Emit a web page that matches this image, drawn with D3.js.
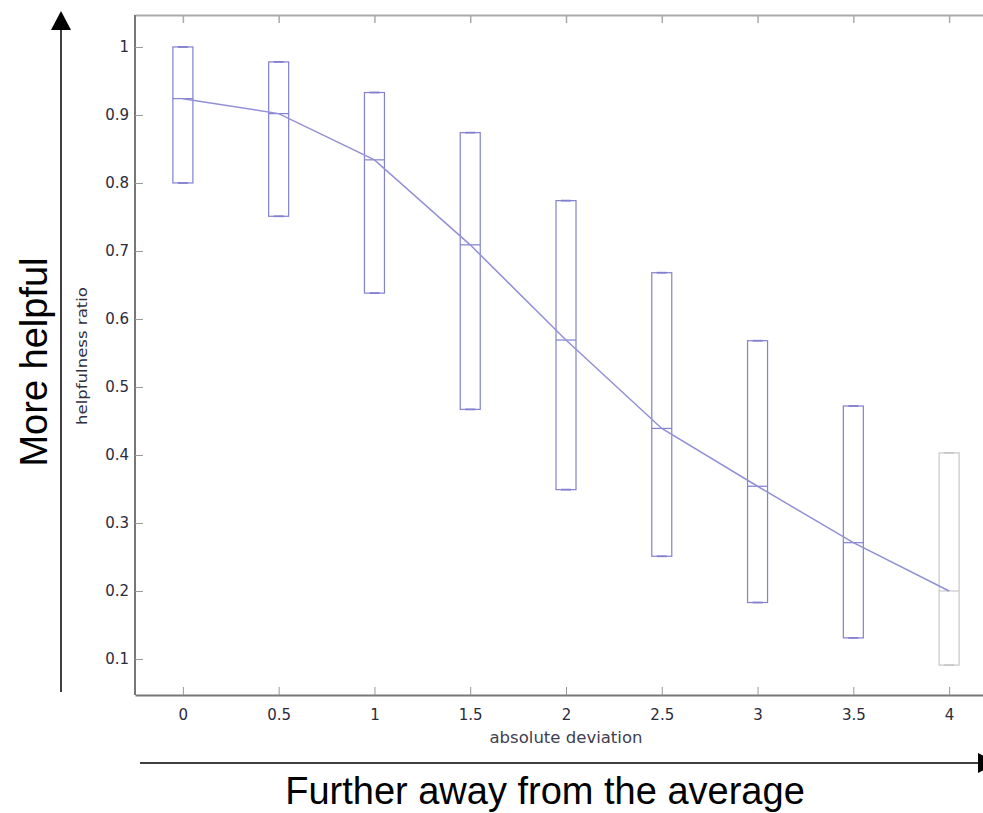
<!DOCTYPE html>
<html>
<head>
<meta charset="utf-8">
<script src="https://cdn.jsdelivr.net/npm/d3@7"></script>
<style>
  body { margin: 0; background: #fff; }
  svg { display: block; font-family: "Liberation Sans", Arial, sans-serif; }
</style>
</head>
<body>
<div id="chart"></div>
<script>
const width = 983;
const height = 813;

// absolute deviation bins
const deviations = [0, 0.5, 1, 1.5, 2, 2.5, 3, 3.5, 4];
// box tops, medians and bottoms (helpfulness ratio)
const boxTop    = [1.0, 0.978, 0.933, 0.874, 0.774, 0.668, 0.568, 0.472, 0.403];
const medians   = [0.924, 0.902, 0.834, 0.709, 0.569, 0.439, 0.354, 0.271, 0.200];
const boxBottom = [0.80, 0.751, 0.638, 0.467, 0.349, 0.251, 0.183, 0.131, 0.091];
// the last bin is drawn in grey
const faded = [false, false, false, false, false, false, false, false, true];

const xTicks = [0, 0.5, 1, 1.5, 2, 2.5, 3, 3.5, 4];
const yTicks = [0.1, 0.2, 0.3, 0.4, 0.5, 0.6, 0.7, 0.8, 0.9, 1];

const blue = '#8280cf';
const grey = '#c8c8c8';
const tickFont = '"DejaVu Sans", Verdana, sans-serif';
const labelColor = '#2b2b3b';

const svg = d3.select('#chart').append('svg')
  .attr('width', width)
  .attr('height', height);

// plot frame
const plotLeft = 135, plotTop = 15, plotBottom = 695, plotRight = 997;

const xScale = d3.scaleLinear()
  .domain([-0.25, 4.25])
  .range([plotLeft, plotRight]);

const yScale = d3.scaleLinear()
  .domain([0.047, 1.047])
  .range([plotBottom, plotTop]);

// top border with downward ticks
const topAxis = svg.append('g')
  .attr('transform', `translate(0,${plotTop})`)
  .call(d3.axisTop(xScale).tickValues(xTicks).tickSizeInner(-8).tickSizeOuter(0).tickFormat(''));
topAxis.select('.domain').attr('stroke', '#aaa').attr('stroke-width', 2);
topAxis.selectAll('.tick line').attr('stroke', '#aaa').attr('stroke-width', 1.5);

// bottom axis
const xAxis = svg.append('g')
  .attr('transform', `translate(0,${plotBottom})`)
  .call(d3.axisBottom(xScale).tickValues(xTicks).tickSizeInner(-8).tickSizeOuter(0)
    .tickPadding(14).tickFormat(d3.format('')));
xAxis.select('.domain').attr('stroke', '#777').attr('stroke-width', 2);
xAxis.selectAll('.tick line').attr('stroke', '#999');
xAxis.selectAll('.tick text').attr('font-size', 15).attr('fill', labelColor)
  .attr('font-family', tickFont);

// left axis
const yAxis = svg.append('g')
  .attr('transform', `translate(${plotLeft},0)`)
  .call(d3.axisLeft(yScale).tickValues(yTicks).tickSizeInner(-8).tickSizeOuter(0)
    .tickPadding(6).tickFormat(d3.format('')));
yAxis.select('.domain').attr('stroke', '#777').attr('stroke-width', 2)
  .attr('d', `M0,${plotTop}V${plotBottom}`);
yAxis.selectAll('.tick line').attr('stroke', '#999');
yAxis.selectAll('.tick text').attr('font-size', 15).attr('fill', labelColor)
  .attr('font-family', tickFont);

// axis titles
svg.append('text')
  .attr('x', xScale(2))
  .attr('y', 743)
  .attr('text-anchor', 'middle')
  .attr('font-family', tickFont)
  .attr('font-size', 15)
  .attr('textLength', 153)
  .attr('lengthAdjust', 'spacingAndGlyphs')
  .attr('fill', '#404050')
  .text('absolute deviation');

svg.append('text')
  .attr('transform', 'translate(87,356) rotate(-90)')
  .attr('text-anchor', 'middle')
  .attr('font-family', tickFont)
  .attr('font-size', 14)
  .attr('textLength', 138)
  .attr('lengthAdjust', 'spacingAndGlyphs')
  .attr('fill', '#303040')
  .text('helpfulness ratio');

// boxes
const boxW = 20;
const data = deviations.map((d, i) => ({
  x: d, top: boxTop[i], med: medians[i], bot: boxBottom[i], faded: faded[i]
}));

const boxes = svg.append('g').selectAll('g').data(data).enter().append('g');

boxes.append('rect')
  .attr('x', d => xScale(d.x) - boxW / 2)
  .attr('y', d => yScale(d.top))
  .attr('width', boxW)
  .attr('height', d => yScale(d.bot) - yScale(d.top))
  .attr('fill', 'none')
  .attr('stroke', d => d.faded ? grey : blue)
  .attr('stroke-width', 1.2);

// caps at top and bottom
['top', 'bot'].forEach(k => {
  boxes.append('line')
    .attr('x1', d => xScale(d.x) - 5)
    .attr('x2', d => xScale(d.x) + 5)
    .attr('y1', d => yScale(d[k]))
    .attr('y2', d => yScale(d[k]))
    .attr('stroke', d => d.faded ? grey : blue)
    .attr('stroke-width', 1.8);
});

boxes.append('line')
  .attr('x1', d => xScale(d.x) - boxW / 2)
  .attr('x2', d => xScale(d.x) + boxW / 2)
  .attr('y1', d => yScale(d.med))
  .attr('y2', d => yScale(d.med))
  .attr('stroke', d => d.faded ? grey : blue)
  .attr('stroke-width', 1.2);

// median curve
const line = d3.line()
  .x(d => xScale(d.x))
  .y(d => yScale(d.med));

svg.append('path')
  .datum(data)
  .attr('d', line)
  .attr('fill', 'none')
  .attr('stroke', '#9290d6')
  .attr('stroke-width', 1.5);

// annotation arrows
svg.append('line')
  .attr('x1', 61).attr('x2', 61)
  .attr('y1', 28).attr('y2', 692)
  .attr('stroke', '#000').attr('stroke-width', 1.5);
svg.append('path')
  .attr('d', 'M61,11L51,30L71,30Z')
  .attr('fill', '#000');

svg.append('line')
  .attr('x1', 140).attr('x2', 980)
  .attr('y1', 763).attr('y2', 763)
  .attr('stroke', '#000').attr('stroke-width', 1.5);
svg.append('path')
  .attr('d', 'M998,763L978,753L978,773Z')
  .attr('fill', '#000');

svg.append('text')
  .attr('transform', 'translate(47,362) rotate(-90)')
  .attr('text-anchor', 'middle')
  .attr('font-size', 38)
  .attr('fill', '#000')
  .text('More helpful');

svg.append('text')
  .attr('x', 545)
  .attr('y', 804)
  .attr('text-anchor', 'middle')
  .attr('font-size', 38)
  .attr('fill', '#000')
  .text('Further away from the average');
</script>
</body>
</html>
